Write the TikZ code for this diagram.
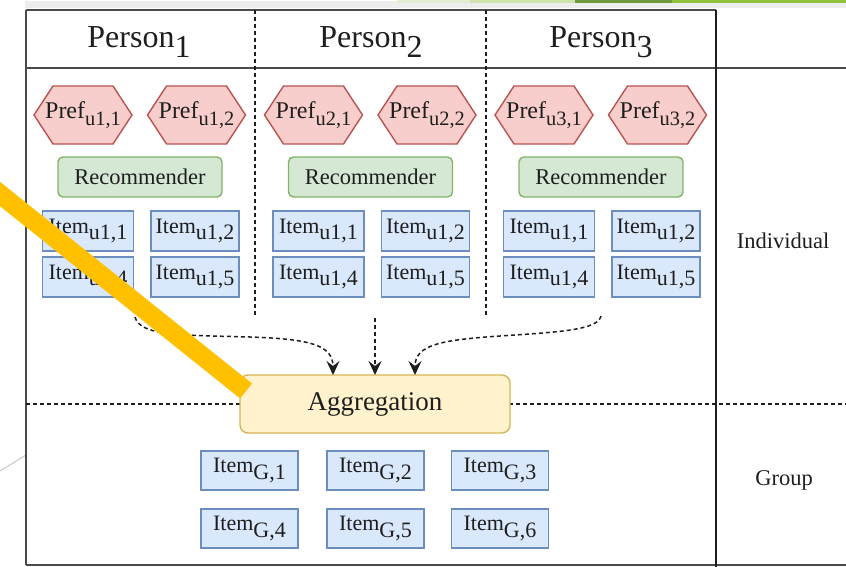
\documentclass[tikz,border=0pt]{standalone}
\usepackage{fontspec}
\usepackage{graphicx}
\setmainfont{Liberation Serif}
\usetikzlibrary{arrows.meta,backgrounds}
% lowered "subscript" text set at (almost) full size
\newcommand\lowsub[2][1]{\raisebox{-0.3em}{\scalebox{#1}{#2}}}
\definecolor{txt}{HTML}{1E1E1E}
\definecolor{frame}{HTML}{4A4A4A}
\definecolor{redfill}{HTML}{F8CECC}\definecolor{redline}{HTML}{B85450}
\definecolor{greenfill}{HTML}{D5E8D4}\definecolor{greenline}{HTML}{82B366}
\definecolor{bluefill}{HTML}{DAE8FC}\definecolor{blueline}{HTML}{6C8EBF}
\definecolor{yelfill}{HTML}{FFF2CC}\definecolor{yelline}{HTML}{D6B656}
\definecolor{marker}{HTML}{FFC000}
\definecolor{stripA}{HTML}{E2EED2}\definecolor{stripB}{HTML}{CFE3AC}
\definecolor{stripC}{HTML}{6B9B3B}\definecolor{stripD}{HTML}{8FC03C}
% preference node: text box with a flat hexagon drawn behind it
\newcommand\hexnode[3]{%
  \node[pref] (#1) at (#2) {#3};
  \begin{scope}[on background layer]
    \draw[hexline] (#1.west) -- ([xshift=19pt]#1.north west) -- ([xshift=-19pt]#1.north east)
      -- (#1.east) -- ([xshift=-19pt]#1.south east) -- ([xshift=19pt]#1.south west) -- cycle;
  \end{scope}}
\begin{document}
\begin{tikzpicture}[x=1pt,y=-1pt,
  every node/.style={text=txt,inner sep=0pt,outer sep=0pt},
  head/.style={font=\fontsize{32}{36}\selectfont},
  sidelabel/.style={font=\fontsize{22.5}{26}\selectfont},
  pref/.style={rectangle,minimum width=98pt,minimum height=58pt,
    font=\fontsize{24}{28}\selectfont},
  hexline/.style={fill=redfill,draw=redline,line width=1.4pt,line join=miter},
  recbox/.style={rectangle,rounded corners=5pt,fill=greenfill,draw=greenline,line width=1.4pt,
    minimum width=164pt,minimum height=40pt,font=\fontsize{22.5}{26}\selectfont},
  itembox/.style={rectangle,fill=bluefill,draw=blueline,line width=1.4pt,
    minimum height=40pt,font=\fontsize{22}{26}\selectfont},
  gitem/.style={itembox,minimum width=97pt,minimum height=39pt},
  aggbox/.style={rectangle,rounded corners=8pt,fill=yelfill,draw=yelline,line width=1.4pt,
    minimum width=270pt,minimum height=58pt,font=\fontsize{27}{30}\selectfont},
  framel/.style={draw=frame,line width=2.4pt},
  sep/.style={draw=txt,line width=1.5pt,dash pattern=on 4pt off 3pt},
  flow/.style={sep,-{Stealth[length=14pt,width=13pt,inset=5pt]}}]
\useasboundingbox (0,0) rectangle (846,567);

% slide strip along the top edge
\fill[black!7] (25,1) rectangle (846,8);
\fill[stripA] (397,0) rectangle (470,3);
\fill[stripB] (470,0) rectangle (575,3);
\fill[stripC] (575,0) rectangle (672,3);
\fill[stripD] (672,0) rectangle (846,3);
% thin slide line at the lower left
\draw[black!22,line width=1pt] (0,471) -- (26,455);

% table frame
\draw[framel] (26,10) -- (716,10);
\draw[framel] (26,10) -- (26,565);
\draw[framel] (26,68) -- (846,68);
\draw[framel] (26,565) -- (846,565);
\draw[draw=txt,line width=2pt] (716,10) -- (716,567);
% column and row separators
\draw[sep] (255,10) -- (255,317);
\draw[sep] (486,10) -- (486,317);
\draw[sep] (26,404) -- (846,404);

% column headers
\node[head,anchor=base] (p1) at (139,48) {Person\lowsub{1}};
\node[head,anchor=base] (p2) at (371,48) {Person\lowsub{2}};
\node[head,anchor=base] (p3) at (601,48) {Person\lowsub{3}};

% per-person blocks
\foreach \c in {1,2,3}{
  \pgfmathsetmacro{\dx}{230.5*(\c-1)}
  \hexnode{pref\c a}{83+\dx,115}{Pref\lowsub[0.85]{u\c,1}}
  \hexnode{pref\c b}{196.5+\dx,115}{Pref\lowsub[0.85]{u\c,2}}
  \node[recbox] (rec\c) at (140+\dx,177) {Recommender};
  \node[itembox,minimum width=91pt] (it\c a) at (88+\dx,231) {Item\lowsub{u1,1}};
  \node[itembox,minimum width=88pt] (it\c b) at (195+\dx,231) {Item\lowsub{u1,2}};
  \node[itembox,minimum width=91pt] (it\c c) at (88+\dx,277) {Item\lowsub{u1,4}};
  \node[itembox,minimum width=88pt] (it\c d) at (195+\dx,277) {Item\lowsub{u1,5}};
}

% aggregation and group items
\node[aggbox] (agg) at (375,404) {Aggregation};
\node[gitem] (g1) at (249.5,470.5) {Item\lowsub{G,1}};
\node[gitem] (g2) at (375.5,470.5) {Item\lowsub{G,2}};
\node[gitem] (g3) at (500,470.5) {Item\lowsub{G,3}};
\node[gitem] (g4) at (249.5,528.5) {Item\lowsub{G,4}};
\node[gitem] (g5) at (375.5,528.5) {Item\lowsub{G,5}};
\node[gitem] (g6) at (500,528.5) {Item\lowsub{G,6}};

% row labels
\node[sidelabel] (ind) at (783,241) {Individual};
\node[sidelabel] (grp) at (784,480) {Group};

% flows into the aggregation
\coordinate (s1) at (135,317);
\coordinate (s2) at (375,318);
\coordinate (s3) at (601,316);
\draw[flow] (s1) .. controls (140,336) and (180,335) .. (250,337)
  .. controls (310,339) and (333,345) .. ([xshift=-42pt]agg.north);
\draw[flow] (s2) -- (agg.north);
\draw[flow] (s3) .. controls (598,330) and (560,332) .. (500,336)
  .. controls (440,340) and (415,345) .. ([xshift=40pt]agg.north);

% highlighter stroke pointing at the aggregation box
\coordinate (hl) at (-20,178);
\coordinate (hlend) at (246,391);
\draw[marker,line width=19pt] (hl) -- (hlend);
\end{tikzpicture}
\end{document}
